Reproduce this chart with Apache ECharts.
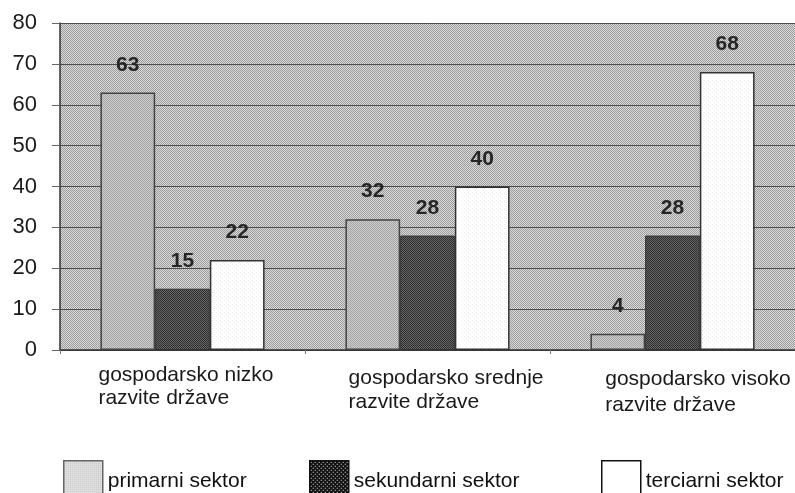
<!DOCTYPE html>
<html>
<head>
<meta charset="utf-8">
<script src="https://cdn.jsdelivr.net/npm/echarts@6/dist/echarts.min.js"></script>
<style>
  html, body { margin: 0; padding: 0; background: #fff; }
  #chart { width: 795px; height: 493px; }
</style>
</head>
<body>
<div id="chart"></div>
<script>
var categories = ['gospodarsko nizko\nrazvite države', 'gospodarsko srednje\nrazvite države', 'gospodarsko visoko\nrazvite države'];
var seriesNames = ['primarni sektor', 'sekundarni sektor', 'terciarni sektor'];
var primarni = [63, 32, 4];
var sekundarni = [15, 28, 28];
var terciarni = [22, 40, 68];
var yTicks = { min: 0, max: 80, interval: 10 };

var FONT = '"Liberation Sans", Arial, sans-serif';

// drobni rastrski vzorci (skenirana slika)
function makePattern(size, bg, fg, dots) {
    var c = document.createElement('canvas');
    c.width = size; c.height = size;
    var ctx = c.getContext('2d');
    ctx.fillStyle = bg;
    ctx.fillRect(0, 0, size, size);
    ctx.fillStyle = fg;
    dots.forEach(function (d) { ctx.fillRect(d[0], d[1], 1, 1); });
    return { image: c, repeat: 'repeat' };
}

var bgPattern = makePattern(2, '#dadada', '#9c9c9c', [[0, 0], [1, 1]]);
var primPattern = makePattern(2, '#cdcdcd', '#a4a4a4', [[0, 0], [1, 1]]);
var sekPattern = makePattern(2, '#666666', '#2e2e2e', [[0, 0], [1, 1]]);
var terPattern = makePattern(4, '#ffffff', '#eeeeee', [[0, 0], [2, 2]]);
var legPrim = makePattern(2, '#e2e2e2', '#bdbdbd', [[0, 0]]);
var legSek = makePattern(4, '#111111', '#f0f0f0', [[1, 1], [3, 3]]);

var labelShift = [
    { pl: 7, pt: 0, lh: 23 },
    { pl: 37, pt: 4, lh: 24 },
    { pl: 51, pt: 4, lh: 26 }
];
var rich = {};
labelShift.forEach(function (s, i) {
    rich['c' + i] = {
        fontFamily: FONT, fontSize: 21, color: '#1a1a1a',
        align: 'left', lineHeight: s.lh, padding: [s.pt, 0, 0, s.pl]
    };
});

var dataLabel = {
    show: true, position: 'top', distance: 17,
    fontFamily: FONT, fontSize: 21, fontWeight: 'bold', color: '#262626'
};

function legendAt(left, name, style) {
    return {
        left: left, top: 455, orient: 'horizontal',
        icon: 'rect',
        itemWidth: 39, itemHeight: 40,
        textStyle: { fontFamily: FONT, fontSize: 21, color: '#111', padding: [0, 0, 0, 0] },
        data: [{ name: name, itemStyle: style }],
        selectedMode: false
    };
}

var chart = echarts.init(document.getElementById('chart'));
chart.setOption({
    animation: false,
    backgroundColor: '#fff',
    grid: {
        left: 60, right: 0, top: 23, bottom: 143,
        show: true, backgroundColor: bgPattern, borderWidth: 0,
        outerBoundsMode: 'none'
    },
    legend: [
        legendAt(58, seriesNames[0], { color: legPrim, borderColor: '#666', borderWidth: 1.5 }),
        legendAt(304, seriesNames[1], { color: legSek, borderColor: '#111', borderWidth: 1.5 }),
        legendAt(596, seriesNames[2], { color: '#fff', borderColor: '#111', borderWidth: 1.5 })
    ],
    xAxis: {
        type: 'category',
        data: categories,
        axisLine: { lineStyle: { color: '#333', width: 1.5 } },
        axisTick: { show: true, length: 4, lineStyle: { color: '#777' } },
        axisLabel: {
            margin: 14,
            interval: 0,
            formatter: function (v, i) { return '{c' + i + '|' + v + '}'; },
            rich: rich
        }
    },
    yAxis: {
        type: 'value',
        min: yTicks.min, max: yTicks.max, interval: yTicks.interval,
        axisLine: { show: true, lineStyle: { color: '#333', width: 1.5 } },
        axisTick: { show: true, length: 8, lineStyle: { color: '#666' } },
        axisLabel: { margin: 23, fontFamily: FONT, fontSize: 22, color: '#1a1a1a' },
        splitLine: { show: true, lineStyle: { color: '#4d4d4d', width: 1 } }
    },
    series: [
        {
            name: seriesNames[0], type: 'bar', data: primarni,
            barGap: '0%', barCategoryGap: '33%',
            itemStyle: { color: primPattern, borderColor: '#444', borderWidth: 1.5 },
            label: dataLabel
        },
        {
            name: seriesNames[1], type: 'bar', data: sekundarni,
            itemStyle: { color: sekPattern, borderColor: '#333', borderWidth: 1 },
            label: dataLabel
        },
        {
            name: seriesNames[2], type: 'bar', data: terciarni,
            itemStyle: { color: terPattern, borderColor: '#333', borderWidth: 1.5 },
            label: dataLabel
        }
    ]
});
</script>
</body>
</html>
